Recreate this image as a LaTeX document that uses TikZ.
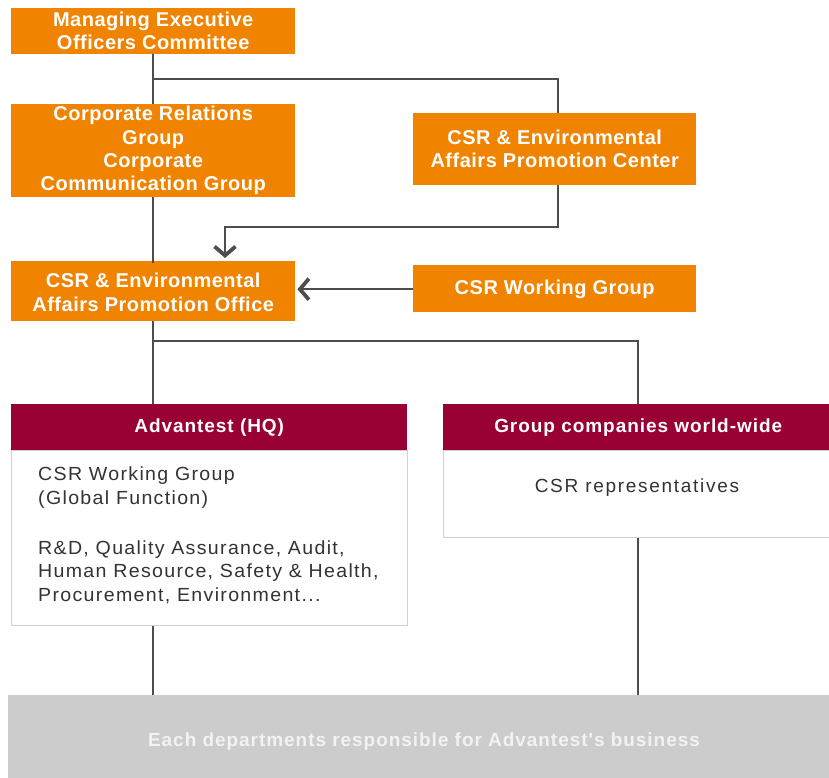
\documentclass[tikz,border=0pt]{standalone}
\usepackage{fontspec}
\setmainfont{Liberation Sans}
\newfontfamily\widefont[LetterSpace=2.5]{Liberation Sans}
\newfontfamily\headfont[LetterSpace=5]{Liberation Sans}
\newfontfamily\bodyfont[FakeStretch=1.03,LetterSpace=7]{Liberation Sans}
\newfontfamily\repfont[LetterSpace=9]{Liberation Sans}
\newfontfamily\deptfont[LetterSpace=5]{Liberation Sans}
\usetikzlibrary{arrows.meta}
\definecolor{org}{HTML}{F08300}
\definecolor{mar}{HTML}{990033}
\definecolor{lin}{HTML}{4D4D4D}
\definecolor{txt}{HTML}{333333}
\definecolor{gry}{HTML}{CCCCCC}
\definecolor{bdr}{HTML}{D0D0D0}
\definecolor{ltxt}{HTML}{F2F2F2}
\begin{document}
\begin{tikzpicture}[x=1pt,y=-1pt,
  obox/.style={fill=org, text=white, font=\widefont\bfseries\fontsize{20}{23.3}\selectfont,
    align=center, anchor=north west, inner sep=0pt},
  hbox/.style={fill=mar, text=white, font=\headfont\bfseries\fontsize{19}{23}\selectfont,
    anchor=north west, inner sep=0pt, minimum height=46pt},
  bbox/.style={draw=bdr, line width=1pt, fill=white, anchor=north west, inner sep=0pt},
  conn/.style={draw=lin, line width=1.6pt},
  arr/.style={conn, -{Straight Barb[length=9pt, width=21pt, line width=3.8pt]}}
]
\useasboundingbox (0,0) rectangle (829,778);

% orange boxes
\node[obox, minimum width=284pt, minimum height=46pt] (meoc) at (11,8)
  {Managing Executive\\Officers Committee};
\node[obox, minimum width=284pt, minimum height=93pt] (crg) at (11,104)
  {Corporate Relations\\Group\\Corporate\\Communication Group};
\node[obox, minimum width=283pt, minimum height=72pt] (center) at (413,113)
  {CSR \& Environmental\\Affairs Promotion Center};
\node[obox, minimum width=284pt, minimum height=58pt, yshift=-2pt] (office) at (11,261)
  {CSR \& Environmental\\Affairs Promotion Office};
\node[obox, minimum width=283pt, minimum height=46pt, yshift=-1pt] (wg) at (413,265)
  {CSR Working Group};
\path[fill=org] (11,261) rectangle (295,263) (413,265) rectangle (696,266);

% HQ
\node[bbox, minimum width=396pt, minimum height=175pt] (hqb) at (11,450) {};
\node[hbox, minimum width=396pt] (hqh) at (11,404) {Advantest (HQ)};
\node[anchor=north west, inner sep=0pt, text=txt, align=left,
  font=\bodyfont\fontsize{19}{23.5}\selectfont] (hqt) at (38,467)
  {CSR Working Group\\(Global Function)\\[26.5pt]R\&D, Quality Assurance, Audit,\\Human Resource, Safety \& Health,\\Procurement, Environment...};

% Group companies
\node[bbox, minimum width=390pt, minimum height=87pt] (grb) at (443,450) {};
\node[hbox, minimum width=390pt] (grh) at (443,404) {Group companies world-wide};
\node[text=txt, inner sep=0pt, font=\repfont\fontsize{19}{23}\selectfont] (grt) at (637,488)
  {CSR representatives};

% bottom
\node[fill=gry, anchor=north west, inner sep=0pt,
  minimum width=821pt, minimum height=83pt] (dept) at (8,695) {};
\node[text=ltxt, inner sep=0pt, font=\deptfont\bfseries\fontsize{19}{23}\selectfont] (deptt) at (424,742)
  {Each departments responsible for Advantest's business};

% connectors
\coordinate (j1) at (153,79);
\coordinate (c1) at (558,185);
\coordinate (k1) at (225,227);
\coordinate (j2) at (153,341);
\coordinate (g1) at (638,404);

\draw[conn] (meoc.south) -- (crg.north);
\draw[conn] (j1) -| (center.north -| c1);
\draw[conn] (crg.south) -- (office.north);
\draw[arr] (c1) |- (k1) -- (225,258);
\draw[arr] (wg.west) -- ([xshift=2pt]office.east |- wg.west);
\draw[conn] (office.south) -- (office.south |- hqh.north);
\draw[conn] (j2) -| (g1);
\draw[conn] (hqb.south -| office.south) -- (dept.north -| office.south);
\draw[conn] (grb.south -| g1) -- (dept.north -| g1);
\end{tikzpicture}
\end{document}
